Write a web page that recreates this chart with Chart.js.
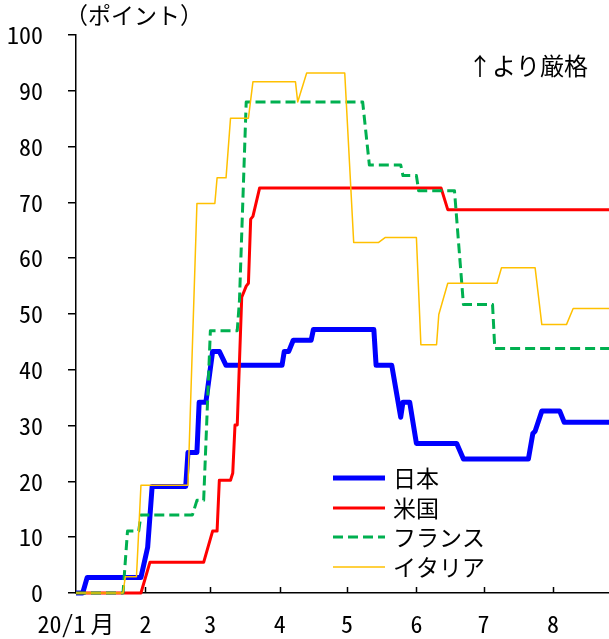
<!DOCTYPE html>
<html lang="ja">
<head>
<meta charset="utf-8">
<title>厳格度指数の推移</title>
<script src="https://cdn.jsdelivr.net/npm/chart.js@4.4.1/dist/chart.umd.min.js"></script>
<style>
  html, body { margin: 0; padding: 0; background: #fff; }
  #wrap { position: relative; width: 609px; height: 639px; }
</style>
</head>
<body>
<div id="wrap"><canvas id="c"></canvas></div>
<script>
// 2020 is a leap year: day offset (from Jan 1) of the first day of each month
const monthStarts = [0, 31, 60, 91, 121, 152, 182, 213, 244];
const monthLabels = ['20/1\u2009月', '2', '3', '4', '5', '6', '7', '8'];
const yTicks = [0, 10, 20, 30, 40, 50, 60, 70, 80, 90, 100];
const seriesNames = ['日本', '米国', 'フランス', 'イタリア'];

// Index values at the dates where they change (month/day, 2020)
const japanDates  = ['1/1','1/4','1/6','1/30','2/2','2/4','2/19','2/20','2/24','2/25','2/28','3/2','3/5','3/8','4/2','4/3','4/5','4/7','4/15','4/16','5/13','5/14','5/21','5/25','5/26','5/29','6/1','6/19','6/22','7/21','7/23','7/24','7/27','8/4','8/6','8/26'];
const japanValues = [0, 0, 2.8, 2.8, 8.2, 19.1, 19.1, 25.2, 25.2, 34.2, 34.2, 43.3, 43.3, 40.8, 40.8, 43.3, 43.3, 45.3, 45.3, 47.2, 47.2, 40.8, 40.8, 31.5, 34.2, 34.2, 26.8, 26.8, 24.0, 24.0, 28.6, 29.0, 32.6, 32.6, 30.6, 30.6];

const usDates  = ['1/1','1/30','2/3','2/27','3/2','3/4','3/5','3/10','3/11','3/12','3/13','3/15','3/17','3/18','3/19','3/20','3/23','6/12','6/15','8/26'];
const usValues = [0, 0, 5.5, 5.5, 11.1, 11.1, 20.2, 20.2, 21.5, 30.1, 30.1, 53.0, 55.0, 55.5, 67.0, 67.5, 72.6, 72.6, 68.7, 68.7];

const franceDates  = ['1/1','1/22','1/24','1/29','1/30','2/22','2/24','2/27','3/1','3/13','3/14','3/17','5/8','5/11','5/25','5/26','6/1','6/2','6/18','6/22','7/5','7/6','8/26'];
const franceValues = [0, 0, 11.1, 11.1, 14.0, 14.0, 16.6, 16.6, 47.0, 47.0, 52.5, 88.0, 88.0, 76.7, 76.7, 74.8, 74.8, 72.1, 72.1, 51.7, 51.7, 43.8, 43.8];

const italyDates  = ['1/1','1/22','1/23','1/28','1/30','2/20','2/24','3/3','3/4','3/8','3/10','3/18','3/20','4/8','4/9','4/13','4/30','5/4','5/15','5/18','6/1','6/3','6/10','6/11','6/15','7/7','7/9','7/24','7/27','8/7','8/10','8/26'];
const italyValues = [0, 0, 2.9, 2.9, 19.3, 19.3, 69.8, 69.8, 74.4, 74.4, 85.1, 85.1, 91.6, 91.6, 88.0, 93.2, 93.2, 62.8, 62.8, 63.7, 63.7, 44.5, 44.5, 49.9, 55.5, 55.5, 58.3, 58.3, 48.1, 48.1, 51.0, 51.0];

const NUM_FONT = "'Noto Sans Mono CJK JP', 'Liberation Sans Narrow', 'Liberation Sans', sans-serif";
const JP_FONT = "'Noto Sans CJK JP', 'Noto Sans', sans-serif";

function dayOfYear(md) {
  const [m, d] = md.split('/').map(Number);
  return monthStarts[m - 1] + d - 1;
}
function toPoints(dates, values) {
  return dates.map((d, i) => ({ x: dayOfYear(d), y: values[i] }));
}

const datasets = [
  { label: seriesNames[0], data: toPoints(japanDates, japanValues),  borderColor: '#0000FF', borderWidth: 5,   order: 4 },
  { label: seriesNames[1], data: toPoints(usDates, usValues),        borderColor: '#FF0000', borderWidth: 3,   order: 3 },
  { label: seriesNames[2], data: toPoints(franceDates, franceValues), borderColor: '#00B050', borderWidth: 3,  order: 2, borderDash: [10, 5] },
  { label: seriesNames[3], data: toPoints(italyDates, italyValues),  borderColor: '#FFC000', borderWidth: 1.5, order: 1 }
].map(ds => Object.assign({
  pointRadius: 0, tension: 0, fill: false, clip: false,
  borderJoinStyle: 'round', borderCapStyle: 'butt'
}, ds));

// Month tick marks point up into the plot area
const innerTicks = {
  id: 'innerTicks',
  afterDraw(chart) {
    const { ctx, chartArea, scales } = chart;
    ctx.save();
    ctx.strokeStyle = '#000';
    ctx.lineWidth = 1.5;
    ctx.beginPath();
    monthStarts.slice(1, monthLabels.length).forEach(v => {
      const x = Math.round(scales.x.getPixelForValue(v)) + 0.5;
      ctx.moveTo(x, chartArea.bottom);
      ctx.lineTo(x, chartArea.bottom - 6);
    });
    ctx.stroke();
    ctx.restore();
  }
};

// Unit caption and the "stricter" note
const captions = {
  id: 'captions',
  afterDraw(chart) {
    const { ctx, chartArea } = chart;
    ctx.save();
    ctx.fillStyle = '#000';
    ctx.textBaseline = 'middle';
    ctx.textAlign = 'left';
    ctx.font = '23px ' + JP_FONT;
    ctx.fillText('（ポイント）', chartArea.left - 11, 15);
    ctx.font = '24px ' + JP_FONT;
    ctx.fillText('↑より厳格', chartArea.right - 141, 66);
    ctx.restore();
  }
};

// Legend drawn inside the plot, lower middle
const insideLegend = {
  id: 'insideLegend',
  afterDraw(chart) {
    const { ctx } = chart;
    const x0 = 333, x1 = 385, tx = 393;
    const rows = [478, 508, 537, 567];
    ctx.save();
    chart.data.datasets.forEach((ds, i) => {
      const y = rows[i];
      ctx.strokeStyle = ds.borderColor;
      ctx.lineWidth = ds.borderWidth;
      ctx.setLineDash(ds.borderDash || []);
      ctx.lineCap = 'butt';
      ctx.beginPath();
      ctx.moveTo(x0, y);
      ctx.lineTo(x1, y);
      ctx.stroke();
      ctx.setLineDash([]);
      ctx.fillStyle = '#000';
      ctx.font = '23px ' + JP_FONT;
      ctx.textBaseline = 'middle';
      ctx.textAlign = 'left';
      ctx.fillText(ds.label, tx, y);
    });
    ctx.restore();
  }
};

new Chart(document.getElementById('c'), {
  type: 'line',
  data: { datasets },
  options: {
    responsive: true,
    maintainAspectRatio: false,
    animation: false,
    devicePixelRatio: 1,
    layout: { padding: { top: 35, right: 0, bottom: 0, left: 0 } },
    plugins: { legend: { display: false }, tooltip: { enabled: false } },
    scales: {
      x: {
        type: 'linear',
        min: 0,
        max: dayOfYear('8/26'),
        afterBuildTicks: s => { s.ticks = monthStarts.slice(0, monthLabels.length).map(v => ({ value: v })); },
        afterFit: s => { s.height = 46; },
        grid: { display: false, drawTicks: false },
        border: { display: true, color: '#000', width: 1.5 },
        ticks: {
          autoSkip: false, maxRotation: 0, padding: 16, color: '#000',
          font: { family: NUM_FONT, size: 24 },
          callback: (v, i) => monthLabels[i]
        }
      },
      y: {
        min: 0,
        max: 100,
        afterBuildTicks: s => { s.ticks = yTicks.map(v => ({ value: v })); },
        afterFit: s => { s.width = 76; },
        grid: { display: true, drawOnChartArea: false, drawTicks: true, tickLength: 8, color: '#000', lineWidth: 1.5 },
        border: { display: true, color: '#000', width: 1.5 },
        ticks: {
          padding: 25, color: '#000',
          font: { family: NUM_FONT, size: 24, lineHeight: 0.8 },
          callback: v => String(v)
        }
      }
    }
  },
  plugins: [innerTicks, captions, insideLegend]
});
</script>
</body>
</html>
